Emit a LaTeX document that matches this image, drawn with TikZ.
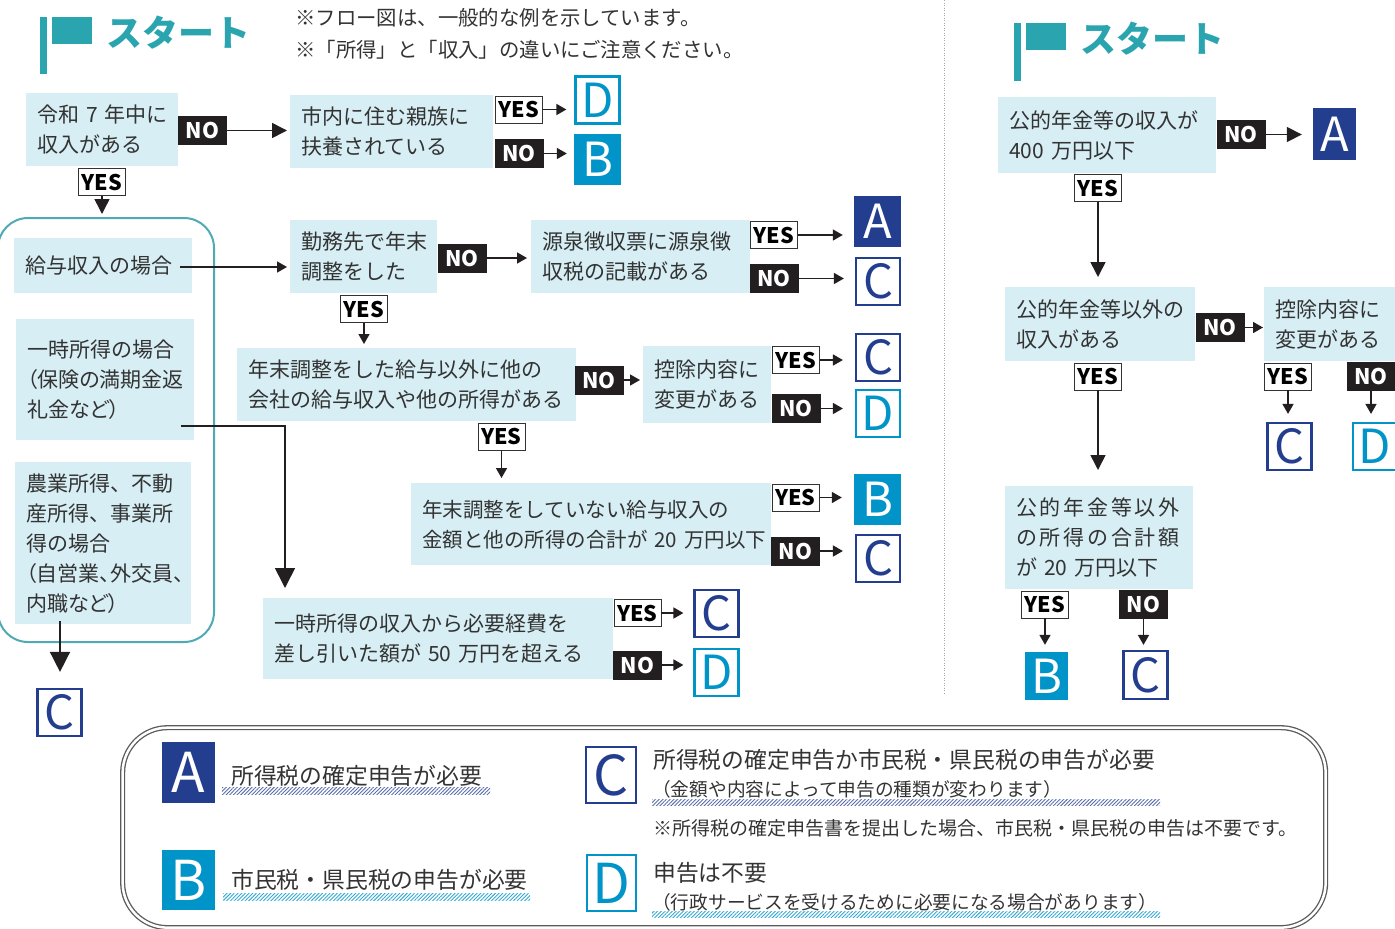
\documentclass[tikz,border=0pt]{standalone}
\usepackage{fontspec}
\setmainfont{Noto Sans CJK JP}
\newfontfamily\paltfont[RawFeature=+palt]{Noto Sans CJK JP}
\newfontfamily\spacedfont[LetterSpace=13]{Noto Sans CJK JP}
\usetikzlibrary{arrows.meta,patterns.meta}
\definecolor{qfill}{RGB}{214,238,244}
\definecolor{txt}{RGB}{51,51,51}
\definecolor{teal1}{RGB}{42,165,176}
\definecolor{frameteal}{RGB}{80,170,182}
\definecolor{navy}{RGB}{35,62,142}
\definecolor{bblue}{RGB}{0,148,200}
\definecolor{nofill}{RGB}{35,31,32}
\definecolor{arrowc}{RGB}{35,31,32}
\definecolor{legline}{RGB}{90,90,90}
\newcommand\qfont{\fontsize{21}{30}\selectfont}
\newcommand\lblfont{\bfseries\fontsize{21.5}{22}\selectfont}
\newcommand\letfont{\fontsize{47}{47}\selectfont}
\newcommand\bigletfont{\fontsize{55}{55}\selectfont}
\newcommand\notefont{\fontsize{20.4}{24}\selectfont}
\newcommand\startfont{\bfseries\fontsize{36}{36}\selectfont}
\newcommand\legfont{\fontsize{22.8}{26}\selectfont}
\newcommand\legsmall{\fontsize{18.7}{22}\selectfont}
\newcommand\legnote{\fontsize{19}{22}\selectfont}
\begin{document}
\begin{tikzpicture}[x=1pt,y=-1pt,
 q/.style={fill=qfill,text=txt,inner xsep=11pt,inner ysep=0pt,align=left,anchor=north west,font=\qfont},
 yeslbl/.style={draw=black!80,line width=0.8pt,fill=white,text=black,font=\lblfont,inner sep=0pt,minimum width=47pt,minimum height=27pt},
 nolbl/.style={fill=nofill,text=white,font=\lblfont,inner sep=0pt,minimum width=49pt,minimum height=29pt},
 letA/.style={fill=navy,text=white,inner sep=0pt,minimum width=47pt,minimum height=51pt,font=\letfont},
 letB/.style={letA,fill=bblue},
 letC/.style={draw=navy,line width=2.2pt,fill=white,text=navy,inner sep=0pt,minimum width=44pt,minimum height=47pt,font=\letfont},
 letD/.style={letC,draw=bblue,text=bblue},
 arr/.style={line width=1.6pt,draw=arrowc,-{Triangle[width=11pt,length=10pt]}},
 medarr/.style={line width=1.6pt,draw=arrowc,-{Triangle[width=15pt,length=15pt]}},
 bigarr/.style={line width=1.6pt,draw=arrowc,-{Triangle[width=20pt,length=20pt]}},
 txtn/.style={inner sep=0pt,anchor=west,text=txt}
]
\useasboundingbox (0,0) rectangle (1395,929);

% divider
\draw[gray!70,line width=1pt,dash pattern=on 1pt off 1.5pt] (944,0) -- (944,695);

% flags and titles
\fill[teal1] (40,17) rectangle (47,74);
\fill[teal1] (52,17) rectangle (92,44);
\node[txtn,text=teal1,font=\startfont] (start1) at (106,33) {スタート};
\fill[teal1] (1014,23) rectangle (1021,81);
\fill[teal1] (1026,23) rectangle (1066,50);
\node[txtn,text=teal1,font=\startfont] (start2) at (1080,39) {スタート};

\node[txtn,font=\notefont] (note1) at (295,18) {※フロー図は、一般的な例を示しています。};
\node[txtn,font=\notefont] (note2) at (295,50) {※「所得」と「収入」の違いにご注意ください。};

% rounded frame
\node[draw=frameteal,line width=2pt,rounded corners=30pt,minimum width=216pt,minimum height=424pt,anchor=north west,inner sep=0pt] (frame) at (-3,217) {};

% question boxes (left)
\node[q,text width=130pt,minimum height=73pt] (q1) at (26,93) {令和~7~年中に\\収入がある};
\node[q,text width=181pt,minimum height=73pt] (q2) at (290,95) {市内に住む親族に\\扶養されている};
\node[q,text width=156pt,minimum height=55pt] (salary) at (14,238) {給与収入の場合};
\node[q,text width=156pt,minimum height=121pt] (ichiji) at (16,319) {一時所得の場合\\{\paltfont （保険の満期金返}\\{\paltfont 礼金など）}};
\node[q,text width=154pt,minimum height=162pt] (nogyo) at (15,462) {農業所得、不動\\産所得、事業所\\得の場合\\{\paltfont （自営業、外交員、}\\{\paltfont 内職など）}};
\node[q,text width=125pt,minimum height=73pt] (kinmu) at (290,220) {勤務先で年末\\調整をした};
\node[q,text width=197pt,minimum height=73pt] (gensen) at (531,220) {源泉徴収票に源泉徴\\収税の記載がある};
\node[q,text width=317pt,minimum height=73pt] (nen2) at (237,348) {年末調整をした給与以外に他の\\会社の給与収入や他の所得がある};
\node[q,text width=106pt,minimum height=77pt] (kojo1) at (643,346) {控除内容に\\変更がある};
\node[q,text width=338pt,minimum height=82pt,font=\fontsize{20.5}{30}\selectfont] (q6) at (411,483) {年末調整をしていない給与収入の\\金額と他の所得の合計が~20~万円以下};
\node[q,text width=328pt,minimum height=81pt] (q7) at (263,598) {一時所得の収入から必要経費を\\差し引いた額が~50~万円を超える};

% question boxes (right)
\node[q,text width=196pt,minimum height=76pt] (r1) at (998,97) {公的年金等の収入が\\400~万円以下};
\node[q,text width=168pt,minimum height=74pt] (r2) at (1005,287) {公的年金等以外の\\収入がある};
\node[q,text width=109pt,minimum height=74pt] (r3) at (1264,287) {控除内容に\\変更がある};
\node[q,text width=166pt,minimum height=103pt] (r4) at (1005,486) {{\spacedfont 公的年金等以外}\\{\spacedfont の所得の合計額}\\が~20~万円以下};

% result letters
\node[letD] (d1) at (597.5,100) {D};
\node[letB] (b1) at (597.5,159.5) {B};
\node[letA] (a1) at (877.5,221.5) {A};
\node[letC] (c1) at (878,281.5) {C};
\node[letC] (c2) at (878,357.5) {C};
\node[letD] (d2) at (878,413.5) {D};
\node[letB] (b2) at (877.5,499.5) {B};
\node[letC] (c3) at (878,558.5) {C};
\node[letC] (c4) at (716.5,613.5) {C};
\node[letD] (d3) at (716.5,672.5) {D};
\node[letC] (c5) at (59.5,712.5) {C};
\node[letA,minimum width=43pt,minimum height=52pt] (a2) at (1334.5,134) {A};
\node[letC] (c6) at (1289.5,446.5) {C};
\node[letD] (d4) at (1375,446.5) {D};
\node[letB,minimum width=43pt,minimum height=48pt] (b3) at (1046.5,676) {B};
\node[letC,minimum height=48pt] (c7) at (1145.5,675) {C};

% YES / NO labels
\node[nolbl] (no1) at (202.5,130.5) {NO};
\node[yeslbl] (yes1) at (102,182) {YES};
\node[yeslbl] (yes2) at (519,109.5) {YES};
\node[nolbl] (no2) at (519,153.5) {NO};
\node[nolbl] (no3) at (462,258) {NO};
\node[yeslbl] (yes3) at (774,235) {YES};
\node[nolbl] (no4) at (774,278.5) {NO};
\node[yeslbl] (yes4) at (364,309) {YES};
\node[nolbl] (no5) at (599,380) {NO};
\node[yeslbl] (yes5) at (796,360) {YES};
\node[nolbl] (no6) at (796,408.5) {NO};
\node[yeslbl] (yes6) at (501.5,436.5) {YES};
\node[yeslbl] (yes7) at (795.5,497.5) {YES};
\node[nolbl] (no7) at (795.5,551) {NO};
\node[yeslbl] (yes8) at (637.5,613) {YES};
\node[nolbl] (no8) at (637.5,665) {NO};
\node[nolbl] (no9) at (1241,134.5) {NO};
\node[yeslbl] (yes9) at (1098,188) {YES};
\node[nolbl] (no10) at (1220,327.5) {NO};
\node[yeslbl] (yes10) at (1098,376.5) {YES};
\node[yeslbl] (yes11) at (1288,376.5) {YES};
\node[nolbl] (no11) at (1371,376.5) {NO};
\node[yeslbl] (yes12) at (1045,604.5) {YES};
\node[nolbl] (no12) at (1143.5,604) {NO};

% connectors
\coordinate (s0) at (180,267);
\coordinate (i0) at (181,426);
\coordinate (i1) at (285,426);
\coordinate (n0) at (60,621);
\draw[medarr,shorten >=3pt] (no1.east) -- (no1.east -| q2.west);
\draw[medarr,shorten >=3pt] (yes1.south) -- (yes1.south |- frame.north);
\draw[arr,shorten >=8pt] (yes2.east) -- (yes2.east -| d1.west);
\draw[arr,shorten >=7pt] (no2.east) -- (no2.east -| b1.west);
\draw[arr,shorten >=3pt] (s0) -- (s0 -| kinmu.west);
\draw[arr,shorten >=4pt] (no3.east) -- (no3.east -| gensen.west);
\draw[arr,shorten >=11pt] (yes3.east) -- (yes3.east -| a1.west);
\draw[arr,shorten >=11pt] (no4.east) -- (no4.east -| c1.west);
\draw[arr,shorten >=4pt] (yes4.south) -- (yes4.south |- nen2.north);
\draw[arr,shorten >=3pt] (no5.east) -- (no5.east -| kojo1.west);
\draw[arr,shorten >=12pt] (yes5.east) -- (yes5.east -| c2.west);
\draw[arr,shorten >=12pt] (no6.east) -- (no6.east -| d2.west);
\draw[arr,shorten >=5pt] (yes6.south) -- (yes6.south |- q6.north);
\draw[arr,shorten >=12pt] (yes7.east) -- (yes7.east -| b2.west);
\draw[arr,shorten >=12pt] (no7.east) -- (no7.east -| c3.west);
\draw[bigarr,shorten >=10pt] (i0) -- (i1) -- (i1 |- q7.north);
\draw[arr,shorten >=10pt] (yes8.east) -- (yes8.east -| c4.west);
\draw[arr,shorten >=10pt] (no8.east) -- (no8.east -| d3.west);
\draw[bigarr,shorten >=16pt] (n0) -- (n0 |- c5.north);
\draw[medarr,shorten >=11pt] (no9.east) -- (no9.east -| a2.west);
\draw[medarr,shorten >=10pt] (yes9.south) -- (yes9.south |- r2.north);
\draw[arr,shorten >=1pt] (no10.east) -- (no10.east -| r3.west);
\draw[medarr,shorten >=16pt] (yes10.south) -- (yes10.south |- r4.north);
\draw[arr,shorten >=8pt] (yes11.south) -- (yes11.south |- c6.north);
\draw[arr,shorten >=8pt] (no11.south) -- (no11.south |- d4.north);
\draw[arr,shorten >=7pt] (yes12.south) -- (yes12.south |- b3.north);
\draw[arr,shorten >=5pt] (no12.south) -- (no12.south |- c7.north);

% legend
\node[draw=legline,line width=1.3pt,double=white,double distance=2.5pt,rounded corners=45pt,minimum width=1203pt,minimum height=200pt,anchor=north west,inner sep=0pt] (legend) at (122,727) {};
\node[letA,minimum width=53pt,minimum height=61pt,font=\bigletfont] (la) at (188.5,772.5) {A};
\node[letB,minimum width=53pt,minimum height=60pt,font=\bigletfont] (lb) at (188.5,880) {B};
\node[letC,minimum width=50pt,minimum height=56pt,font=\bigletfont] (lc) at (611,775) {C};
\node[letD,minimum width=49pt,minimum height=56pt,font=\bigletfont] (ld) at (611.5,883) {D};
\fill[pattern={Lines[angle=45,distance=2.6pt,line width=0.9pt]},pattern color=navy!75] (222,787) rectangle (490,794);
\fill[pattern={Lines[angle=45,distance=2.6pt,line width=0.9pt]},pattern color=bblue!80] (223,893) rectangle (530,900);
\fill[pattern={Lines[angle=45,distance=2.6pt,line width=0.9pt]},pattern color=navy!75] (652,799) rectangle (1160,805);
\fill[pattern={Lines[angle=45,distance=2.6pt,line width=0.9pt]},pattern color=bblue!80] (652,911) rectangle (1160,917);
\node[txtn,font=\legfont] (ta) at (231,776) {所得税の確定申告が必要};
\node[txtn,font=\legfont] (tb) at (231,880) {市民税・県民税の申告が必要};
\node[txtn,font=\legfont] (tc1) at (653,760) {所得税の確定申告か市民税・県民税の申告が必要};
\node[txtn,font=\legsmall] (tc2) at (652,789) {（金額や内容によって申告の種類が変わります）};
\node[txtn,font=\legnote] (tnote) at (653,828) {※所得税の確定申告書を提出した場合、市民税・県民税の申告は不要です。};
\node[txtn,font=\legfont] (td1) at (653,873) {申告は不要};
\node[txtn,font=\legsmall] (td2) at (652,902) {（行政サービスを受けるために必要になる場合があります）};
\end{tikzpicture}
\end{document}
